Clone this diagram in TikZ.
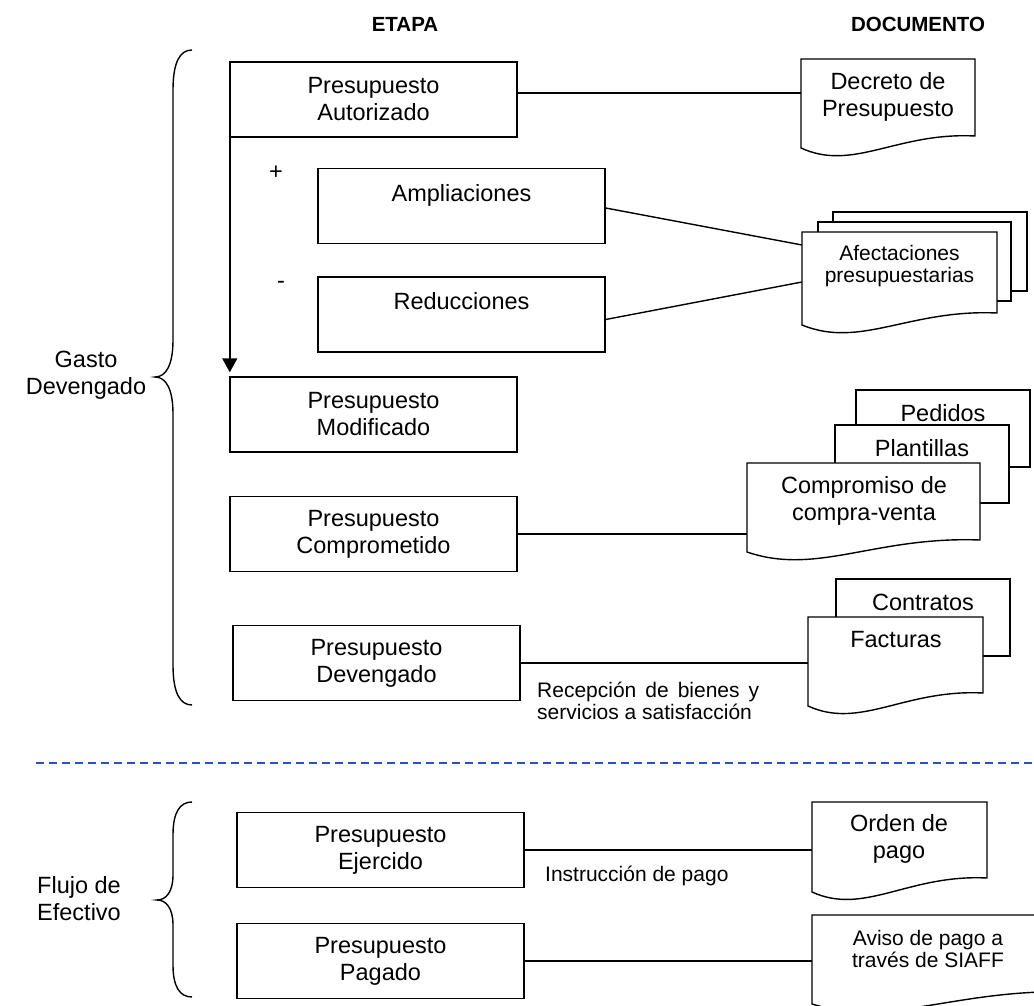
\documentclass[tikz,border=0pt]{standalone}
\usepackage{fontspec}
\setmainfont{Liberation Sans}
\usetikzlibrary{arrows.meta,calc}
\definecolor{dashblue}{RGB}{40,80,200}
\newcommand{\mainf}{\fontsize{23.5}{27}\selectfont}
\newcommand{\smallf}{\fontsize{21}{22}\selectfont}
\newcommand{\headf}{\fontsize{20.5}{22}\selectfont\bfseries}
% document shape: x1, top, x2, right-bottom y, extra drop at left
\newcommand{\docshape}[5]{%
  \draw[sheet] (#1,#2) -- (#3,#2) -- (#3,#4)
    .. controls ({#1+0.55*(#3-#1)},{#4-4}) and ({#1+0.3*(#3-#1)},{#4+#5+24}) ..
    (#1,{#4+#5}) -- cycle;}
\begin{document}
\begin{tikzpicture}[x=1pt,y=-1pt,
  box/.style={draw,line width=1.4pt,minimum width=287pt,minimum height=75pt,inner sep=0pt,align=center,font=\mainf},
  doctext/.style={align=center,inner sep=0pt,font=\mainf},
  docsmall/.style={align=center,inner sep=0pt,font=\smallf},
  sheet/.style={draw,line width=1.4pt,fill=white},
  conn/.style={line width=1.4pt},
  lbl/.style={inner sep=0pt,font=\smallf},
  head/.style={inner sep=0pt,font=\headf},
  brace/.style={line width=1.4pt}]
\useasboundingbox (0,0) rectangle (1034,1006);
\clip (0,0) rectangle (1034,1006);

% headers
\node[head] (hEtapa) at (405,24) {ETAPA};
\node[head] (hDoc) at (918,24) {DOCUMENTO};

% stage boxes
\node[box] (aut) at (373.5,99.5) {Presupuesto\\Autorizado};
\node[box] (amp) at (461.5,206) {Ampliaciones\\\mbox{}};
\node[box] (red) at (461.5,314.5) {Reducciones\\\mbox{}};
\node[box] (mod) at (373.5,414.5) {Presupuesto\\Modificado};
\node[box] (com) at (373.5,534) {Presupuesto\\Comprometido};
\node[box] (dev) at (376.5,663) {Presupuesto\\Devengado};
\node[box] (ej) at (380.5,850) {Presupuesto\\Ejercido};
\node[box] (pag) at (380.5,961) {Presupuesto\\Pagado};

% documents
\docshape{801}{59}{975}{136}{12}
\node[doctext] (dec) at (888,96.5) {Decreto de\\Presupuesto};

\draw[sheet] (833,212) rectangle (1027,291);
\draw[sheet] (818,222) rectangle (1011,301);
\docshape{802}{232}{997}{313}{12}
\node[docsmall] (afe) at (899.5,266) {Afectaciones\\presupuestarias};

\draw[sheet] (856,390) rectangle (1030,467);
\node[doctext] (ped) at (943,413) {Pedidos};
\draw[sheet] (835,425) rectangle (1009,503);
\node[doctext] (pla) at (922,448) {Plantillas};
\docshape{747}{463}{980}{540}{12}
\node[doctext] (cmp) at (864,501) {Compromiso de\\compra-venta};

\draw[sheet] (836,579) rectangle (1010,656);
\node[doctext] (con) at (923,602) {Contratos};
\docshape{808}{617}{983}{693}{13}
\node[doctext] (fac) at (896,640) {Facturas};

\docshape{812}{802}{987}{878}{14}
\node[doctext] (ord) at (899,839) {Orden de\\pago};
\docshape{812}{915}{1075}{992}{12}
\node[docsmall] (avi) at (928,949) {Aviso de pago a\\través de SIAFF};

% connectors
\coordinate (decL) at (801,93);
\draw[conn] (decL -| aut.east) -- (decL);
\coordinate (afL1) at (802,245);
\coordinate (afL2) at (802,282);
\draw[conn] ([yshift=-2pt]amp.east) -- (afL1);
\draw[conn] ([yshift=-5pt]red.east) -- (afL2);
\coordinate (cmpL) at (747,532);
\draw[conn] (com.east) -- (com.east -| cmpL);
\coordinate (facL) at (808,663);
\draw[conn] (dev.east) -- (dev.east -| facL);
\coordinate (ordL) at (812,849);
\draw[conn] (ej.east) -- (ej.east -| ordL);
\coordinate (aviL) at (812,961);
\draw[conn] (pag.east) -- (pag.east -| aviL);

\draw[conn,-{Triangle[length=14pt,width=15pt]},shorten >=4pt] ([xshift=0.5pt]aut.south west) -- ([xshift=0.5pt]mod.north west);

% labels
\node[lbl,anchor=west,text width=222pt,align=justify] (rec) at (537,701) {Recepción de bienes y\linebreak servicios a satisfacción};
\node[lbl,anchor=west] (ins) at (545,876) {Instrucción de pago};
\node[doctext] (plus) at (276,173) {+};
\node[doctext] (minus) at (281,285) {-};

\node[doctext] (gasto) at (86,375) {Gasto\\Devengado};
\node[doctext,anchor=west,align=left] (flujo) at (37,898.5) {Flujo de\\Efectivo};

% braces
\draw[brace] (192,50) .. controls (180,50) and (173,62) .. (173,90) -- (173,340)
  .. controls (173,365) and (166,377) .. (155,377)
  .. controls (166,377) and (173,389) .. (173,414) -- (173,665)
  .. controls (173,693) and (180,705) .. (192,705);
\draw[brace] (192,802) .. controls (180,802) and (173,812) .. (173,835) -- (173,875)
  .. controls (173,892) and (166,900) .. (157,900)
  .. controls (166,900) and (173,908) .. (173,925) -- (173,965)
  .. controls (173,987) and (180,997) .. (192,997);

% separator
\coordinate (dashL) at (36,763);
\coordinate (dashR) at (1034,763);
\draw[dashblue,line width=1.6pt,dash pattern=on 8pt off 5pt] (dashL) -- (dashR);
\end{tikzpicture}
\end{document}
